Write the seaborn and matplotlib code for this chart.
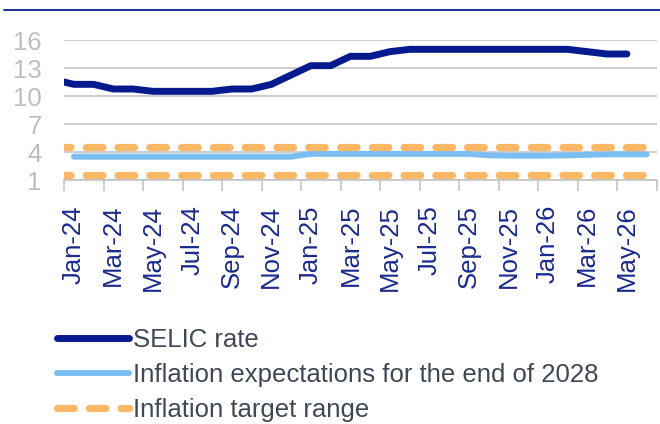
import numpy as np
import pandas as pd
import matplotlib
matplotlib.use("Agg")
import matplotlib.pyplot as plt
from matplotlib.lines import Line2D
import seaborn as sns

# monthly data, Dec-23 .. Jun-26 (Dec-23 sits just left of the axis and is clipped)
months = pd.period_range("2023-12", "2026-06", freq="M")
selic = [11.75, 11.25, 11.25, 10.75, 10.75, 10.5, 10.5, 10.5, 10.5, 10.75, 10.75, 11.25, 12.25,
         13.25, 13.25, 14.25, 14.25, 14.75, 15.0, 15.0, 15.0, 15.0, 15.0, 15.0, 15.0,
         15.0, 15.0, 14.75, 14.5, 14.5, np.nan]
infl_2028 = [np.nan, 3.5, 3.5, 3.5, 3.5, 3.5, 3.5, 3.5, 3.5, 3.5, 3.5, 3.5, 3.5,
             3.8, 3.8, 3.8, 3.8, 3.8, 3.8, 3.8, 3.8, 3.8, 3.65, 3.6, 3.6,
             3.6, 3.65, 3.7, 3.75, 3.75, 3.75]
target_upper = [4.5] * len(months)
target_lower = [1.5] * len(months)
y_ticks = [1, 4, 7, 10, 13, 16]

start = pd.Period("2024-01", freq="M")
df = pd.DataFrame({
    "x": [(m - start).n + 0.5 for m in months],
    "selic": selic,
    "infl": infl_2028,
    "upper": target_upper,
    "lower": target_lower,
})

sns.set_style("white")
plt.rcParams["font.family"] = ["Liberation Sans", "DejaVu Sans"]

navy = "#061A8E"
light_blue = "#7DBEF2"
orange = "#FAB766"
grid_grey = "#C3C3C3"

fig = plt.figure(figsize=(6.6, 4.24), dpi=100)
ax = fig.add_axes([64 / 660, 1 - 180 / 424, (656.5 - 64) / 660, (180 - 40) / 424])

sns.lineplot(data=df, x="x", y="selic", ax=ax, color=navy, linewidth=5,
             solid_capstyle="round", label="SELIC rate")
sns.lineplot(data=df, x="x", y="infl", ax=ax, color=light_blue, linewidth=4.3,
             solid_capstyle="round", label="Inflation expectations for the end of 2028")
sns.lineplot(data=df, x="x", y="upper", ax=ax, color=orange, linewidth=5.2,
             dashes=False, label="Inflation target range")
sns.lineplot(data=df, x="x", y="lower", ax=ax, color=orange, linewidth=5.2,
             dashes=False, label="_nolegend_")
for ln in ax.get_lines()[2:4]:
    ln.set_dashes((2.3, 2.1))
    ln.set_dash_capstyle("round")

ax.set_xlim(0, 30)
ax.set_ylim(1, 16)
ax.set_yticks(y_ticks)
ax.yaxis.grid(True, color=grid_grey, linewidth=1.2)
ax.set_axisbelow(True)

# tick marks on the month boundaries, labels in the middle of the month
ax.set_xticks(np.arange(0, 31, 2))
ax.set_xticklabels([])
label_months = months[1::2]
ax.set_xticks([(m - start).n + 0.5 for m in label_months],
              [m.strftime("%b-%y") for m in label_months], minor=True)
ax.tick_params(axis="x", which="major", bottom=True, length=8, width=1.2, color=grid_grey)
ax.tick_params(axis="x", which="minor", bottom=True, length=0, pad=18,
               labelsize=18.5, labelcolor="#1B2A8C", labelrotation=90)
ax.tick_params(axis="y", length=0, pad=16, labelsize=18.5, labelcolor="#BDBDBD")

for side in ["left", "right", "top"]:
    ax.spines[side].set_visible(False)
ax.spines["bottom"].set_color(grid_grey)
ax.spines["bottom"].set_linewidth(1.2)
ax.set_xlabel("")
ax.set_ylabel("")

handles, labels = ax.get_legend_handles_labels()
ax.get_legend().remove()
fig.legend(handles, labels, loc="upper left", bbox_to_anchor=(57 / 660, 1 - 328 / 424),
           frameon=False, fontsize=18.5, handlelength=2.8, handletextpad=0.15,
           labelspacing=0.42, borderpad=0, borderaxespad=0, labelcolor="#404756")

# thin rule across the top of the figure
fig.add_artist(Line2D([4 / 660, 1], [1 - 10 / 424] * 2, color="#0B1F96", linewidth=1.3))

fig.savefig("out.png", dpi=100)
